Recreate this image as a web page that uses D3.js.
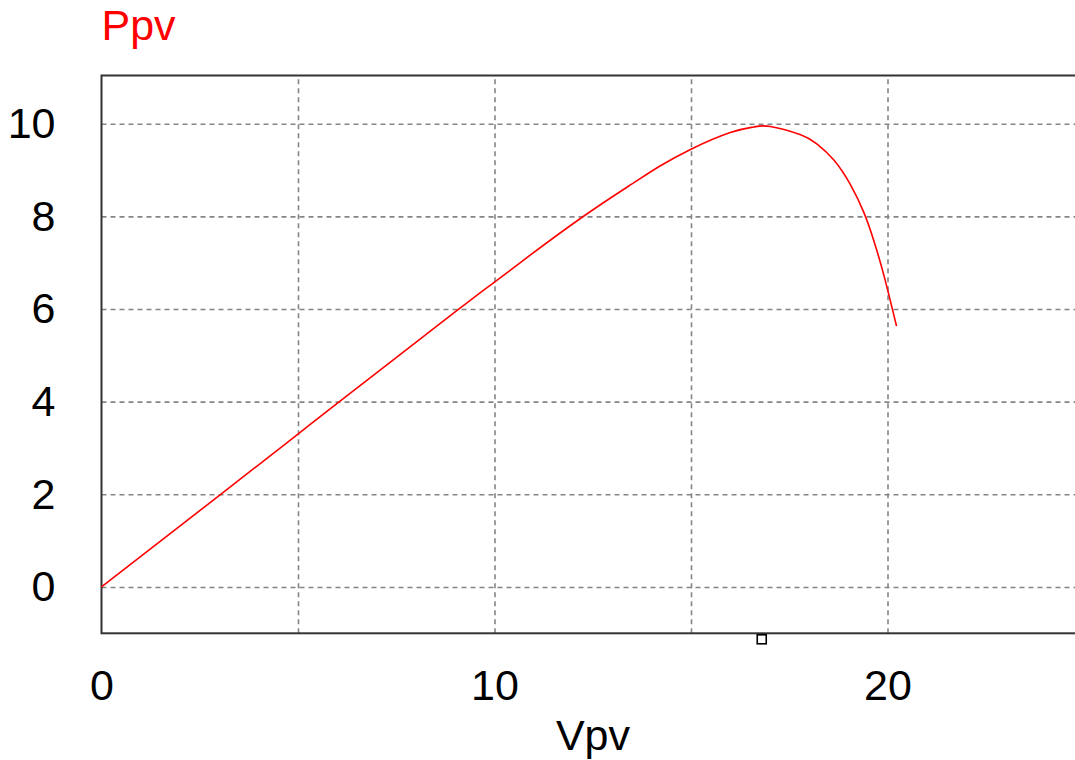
<!DOCTYPE html>
<html>
<head>
<meta charset="utf-8">
<script src="https://cdn.jsdelivr.net/npm/d3@7"></script>
<style>
  html, body { margin: 0; padding: 0; background: #fff; }
  svg { display: block; }
  text { font-family: "Liberation Sans", Arial, sans-serif; }
</style>
</head>
<body>
<svg id="chart" width="1075" height="760"></svg>
<script>
// PV panel power vs. voltage sweep
const vpv = [0, 3.05, 5.0, 5.98, 9.08, 10.0, 10.7, 12.23, 13.5, 14.2, 15.0, 16.0, 16.6, 17.02, 17.79, 18.21, 18.63, 19.06, 19.4, 19.65, 19.91, 20.23];
const ppv = [0, 2.01, 3.30, 3.95, 5.99, 6.58, 7.03, 7.98, 8.70, 9.08, 9.45, 9.81, 9.93, 9.94, 9.76, 9.56, 9.22, 8.68, 8.08, 7.48, 6.72, 5.63];

// cursor marker on the voltage axis
const cursorV = [16.8];

const xDomain = [0, 25];
const yDomain = [-1, 11.04];
const xLabelTicks = [0, 10, 20];
const xGridTicks = [5, 10, 15, 20, 25];
const yTicks = [0, 2, 4, 6, 8, 10];

const svg = d3.select("#chart");
const plotLeft = 101.5, plotTop = 75.5, plotBottom = 633.3;
const plotRight = plotLeft + 25 * 39.3;

const x = d3.scaleLinear().domain(xDomain).range([plotLeft, plotRight]);
const y = d3.scaleLinear().domain(yDomain).range([plotBottom, plotTop]);

const FS = 43;

// grid
const grid = svg.append("g");
grid.append("g")
  .attr("transform", `translate(0,${plotBottom})`)
  .call(d3.axisBottom(x).tickValues(xGridTicks).tickSize(-(plotBottom - plotTop)).tickFormat(""))
  .call(g => g.select(".domain").remove());
grid.append("g")
  .attr("transform", `translate(${plotLeft},0)`)
  .call(d3.axisLeft(y).tickValues(yTicks).tickSize(-(plotRight - plotLeft)).tickFormat(""))
  .call(g => g.select(".domain").remove());
grid.selectAll("line")
  .attr("stroke", "#858585")
  .attr("stroke-width", 1.6)
  .attr("stroke-dasharray", "5,4");

// plot frame
svg.append("rect")
  .attr("x", plotLeft).attr("y", plotTop)
  .attr("width", plotRight - plotLeft).attr("height", plotBottom - plotTop)
  .attr("fill", "none")
  .attr("stroke", "#333")
  .attr("stroke-width", 2);

// tick labels
const yAxis = svg.append("g")
  .attr("transform", `translate(${plotLeft},0)`)
  .call(d3.axisLeft(y).tickValues(yTicks).tickSize(0).tickPadding(46));
yAxis.select(".domain").remove();
yAxis.selectAll("text").attr("font-size", FS).attr("fill", "#000")
  .attr("font-family", "'Liberation Sans', Arial, sans-serif");

const xAxis = svg.append("g")
  .attr("transform", `translate(0,${plotBottom})`)
  .call(d3.axisBottom(x).tickValues(xLabelTicks).tickSize(0).tickPadding(36));
xAxis.select(".domain").remove();
xAxis.selectAll("text").attr("font-size", FS).attr("fill", "#000")
  .attr("font-family", "'Liberation Sans', Arial, sans-serif");

// curve
const line = d3.line()
  .x((d, i) => x(vpv[i]))
  .y((d, i) => y(ppv[i]))
  .curve(d3.curveNatural);
svg.append("path")
  .datum(vpv)
  .attr("d", line)
  .attr("fill", "none")
  .attr("stroke", "#ff0000")
  .attr("stroke-width", 1.6);

// cursor marker
svg.selectAll(".cursor")
  .data(cursorV)
  .enter().append("rect")
  .attr("class", "cursor")
  .attr("x", d => x(d) - 4.5)
  .attr("y", plotBottom + 1.5)
  .attr("width", 9).attr("height", 9)
  .attr("fill", "#fff")
  .attr("stroke", "#000")
  .attr("stroke-width", 1.6);

// titles
svg.append("text")
  .attr("x", plotLeft).attr("y", 40)
  .attr("font-size", FS).attr("fill", "#ff0000")
  .text("Ppv");
svg.append("text")
  .attr("x", 593).attr("y", 750)
  .attr("text-anchor", "middle")
  .attr("font-size", FS).attr("fill", "#000")
  .text("Vpv");
</script>
</body>
</html>
